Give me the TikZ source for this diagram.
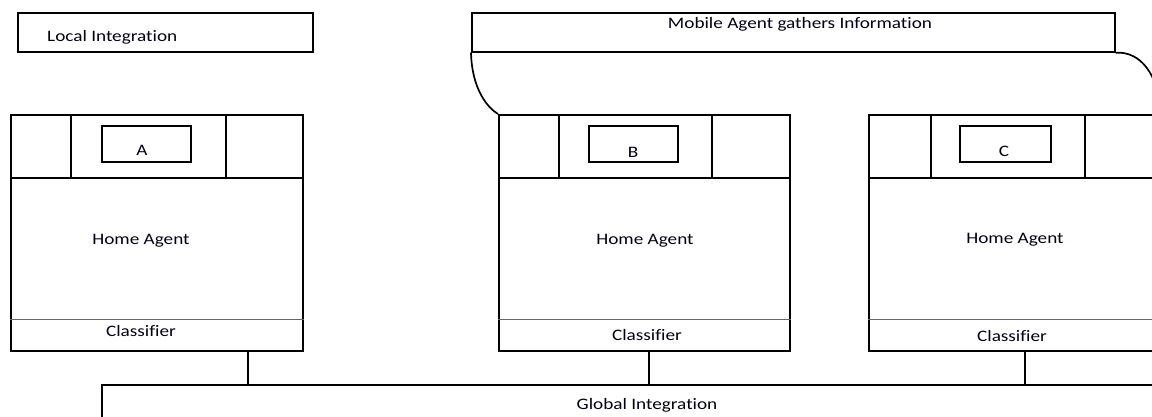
\documentclass[tikz,border=0pt]{standalone}
\usepackage{fontspec}
\setmainfont{Carlito}[FakeStretch=1.2,Ligatures=NoCommon]
\begin{document}
\begin{tikzpicture}[x=1pt,y=-1pt,
  box/.style={draw=black, line width=1.7pt, rectangle, inner sep=0pt, anchor=north west},
  lbl/.style={inner sep=0pt, anchor=base, text=black!92!blue, font=\fontsize{16}{19}\selectfont},
  divider/.style={draw=black!60, line width=1.3pt},
  conn/.style={draw=black, line width=1.7pt},
  curve/.style={draw=black, line width=1.7pt}]
\useasboundingbox (0,0) rectangle (1152,416);
\clip (0,0) rectangle (1152,416);
\fill[white] (0,0) rectangle (1152,416);

% top boxes
\node[box, minimum width=295pt, minimum height=39pt] (L) at (17,12) {};
\node[lbl, anchor=base west] (Lt) at (47,41.5) {Local Integration};
\node[box, minimum width=643pt, minimum height=39pt] (M) at (471,12) {};
\node[lbl] (Mt) at (800,28) {Mobile Agent gathers Information};

% Agent A
\node[box, minimum width=292pt, minimum height=236pt] (A) at (10,114) {};
\node[box, minimum width=292pt, minimum height=63pt] (At) at (10,114) {};
\draw[conn] (At.north -| 71,0) -- (At.south -| 71,0);
\draw[conn] (At.north -| 226,0) -- (At.south -| 226,0);
\node[box, minimum width=89pt, minimum height=36pt] (Ai) at (101,125) {};
\node[lbl] (Al) at (142,155) {A};
\draw[divider] ([yshift=32pt]A.south west) -- ([yshift=32pt]A.south east);
\node[lbl] (Ah) at (141,244) {Home Agent};
\node[lbl] (Ac) at (141,336) {Classifier};

% Agent B
\node[box, minimum width=291pt, minimum height=236pt] (B) at (498,114) {};
\node[box, minimum width=291pt, minimum height=63pt] (Bt) at (498,114) {};
\draw[conn] (Bt.north -| 559,0) -- (Bt.south -| 559,0);
\draw[conn] (Bt.north -| 712,0) -- (Bt.south -| 712,0);
\node[box, minimum width=89pt, minimum height=36pt] (Bi) at (588,125) {};
\node[lbl] (Bl) at (633,157) {B};
\draw[divider] ([yshift=32pt]B.south west) -- ([yshift=32pt]B.south east);
\node[lbl] (Bh) at (645,244) {Home Agent};
\node[lbl] (Bc) at (647,340) {Classifier};

% Agent C
\node[box, minimum width=291pt, minimum height=236pt] (C) at (868,114) {};
\node[box, minimum width=291pt, minimum height=63pt] (Ct) at (868,114) {};
\draw[conn] (Ct.north -| 931,0) -- (Ct.south -| 931,0);
\draw[conn] (Ct.north -| 1085,0) -- (Ct.south -| 1085,0);
\node[box, minimum width=91pt, minimum height=36pt] (Ci) at (959,125) {};
\node[lbl] (Cl) at (1004,156) {C};
\draw[divider] ([yshift=32pt]C.south west) -- ([yshift=32pt]C.south east);
\node[lbl] (Ch) at (1015,243) {Home Agent};
\node[lbl] (Cc) at (1012,341) {Classifier};

% Global integration
\node[box, minimum width=1100pt, minimum height=60pt] (G) at (101,384) {};
\node[lbl] (Gt) at (647,409) {Global Integration};

% connectors
\draw[conn] (A.south -| 248,0) -- (G.north -| 248,0);
\draw[conn] (B.south -| 649,0) -- (G.north -| 649,0);
\draw[conn] (C.south -| 1025,0) -- (G.north -| 1025,0);

% mobile agent curves
\draw[curve] (M.south west) .. controls (472,90) and (488,108) .. (B.north west);
\draw[curve] (M.south east) .. controls (1140,51) and (1159,74) .. (C.north east);
\end{tikzpicture}
\end{document}
